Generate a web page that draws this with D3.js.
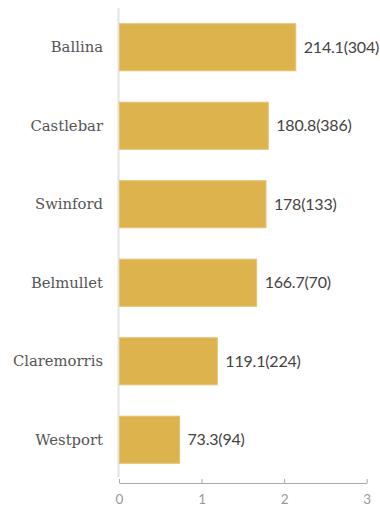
<!DOCTYPE html>
<html>
<head>
<meta charset="utf-8">
<script src="https://cdn.jsdelivr.net/npm/d3@7"></script>
<style>
  html, body { margin: 0; padding: 0; background: #fff; }
  svg { display: block; }
</style>
</head>
<body>
<svg id="chart" width="380" height="506"></svg>
<script>
// Towns, rate per 100k and case counts
const towns = ["Ballina", "Castlebar", "Swinford", "Belmullet", "Claremorris", "Westport"];
const rates = [214.1, 180.8, 178, 166.7, 119.1, 73.3];
const counts = [304, 386, 133, 70, 224, 94];
const xTicks = [0, 1, 2, 3];

const svg = d3.select("#chart");
const plotLeft = 119, plotRight = 366.7, plotTop = 8, plotBottom = 479, axisY = 483;

const x = d3.scaleLinear().domain([0, 3]).range([plotLeft, plotRight]);
const y = d3.scaleBand().domain(towns).range([plotTop, plotBottom])
  .paddingInner(0.4).paddingOuter(0.2);

// vertical baseline
svg.append("line")
  .attr("x1", x(0) - 0.5).attr("x2", x(0) - 0.5)
  .attr("y1", plotTop).attr("y2", plotBottom - 2)
  .attr("stroke", "#e3e3e3").attr("stroke-width", 2);

// bars (scaled to hundreds)
svg.append("g").selectAll("rect").data(towns).join("rect")
  .attr("x", x(0) + 0.5)
  .attr("y", d => y(d))
  .attr("width", (d, i) => x(rates[i] / 100) - x(0) - 0.5)
  .attr("height", y.bandwidth())
  .attr("fill", "#ddb34e")
  .attr("stroke", "#e6c272")
  .attr("stroke-width", 1);

// value labels
svg.append("g").selectAll("text").data(towns).join("text")
  .attr("x", (d, i) => x(rates[i] / 100) + 8)
  .attr("y", d => y(d) + y.bandwidth() / 2)
  .attr("dy", "0.35em")
  .attr("font-family", "Lato, sans-serif")
  .attr("font-size", 16)
  .attr("fill", "#444")
  .attr("letter-spacing", "-0.2")
  .text((d, i) => `${rates[i]}(${counts[i]})`);

// category labels
svg.append("g").selectAll("text").data(towns).join("text")
  .attr("x", x(0) - 16)
  .attr("y", d => y(d) + y.bandwidth() / 2)
  .attr("dy", "0.35em")
  .attr("text-anchor", "end")
  .attr("font-family", "'DejaVu Serif', serif")
  .attr("font-size", 14.8)
  .attr("fill", "#555")
  .text(d => d);

// bottom axis with ticks pointing up
const axis = d3.axisBottom(x).tickValues(xTicks).tickFormat(d3.format("d")).tickSize(-4).tickSizeOuter(0);
const gx = svg.append("g").attr("transform", `translate(0,${axisY})`).call(axis);
gx.select(".domain").attr("stroke", "#aaa");
gx.selectAll(".tick line").attr("stroke", "#aaa");
gx.selectAll(".tick text")
  .attr("y", 21)
  .attr("dy", 0)
  .attr("font-family", "Lato, sans-serif")
  .attr("font-size", 13.5)
  .attr("fill", "#999");
</script>
</body>
</html>
